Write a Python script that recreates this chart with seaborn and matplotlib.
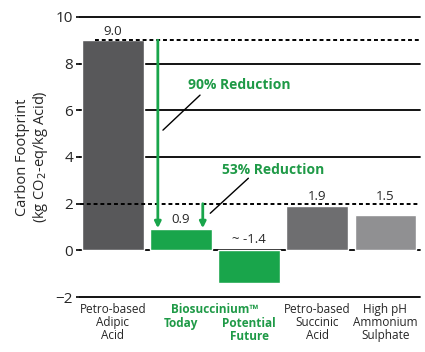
import pandas as pd
import matplotlib.pyplot as plt
import seaborn as sns

labels = ["Petro-based\nAdipic\nAcid", "Today", "Potential\nFuture",
          "Petro-based\nSuccinic\nAcid", "High pH\nAmmonium\nSulphate"]
values = [9.0, 0.9, -1.4, 1.9, 1.5]
value_text = ["9.0", "0.9", "~ -1.4", "1.9", "1.5"]
colors = ["#58585a", "#19a54b", "#19a54b", "#6e6e70", "#909092"]
green_txt = "#1f9a47"

sns.set_style("white")
plt.rcParams['font.family'] = ['Open Sans', 'DejaVu Sans']

df = pd.DataFrame({"cat": labels, "val": values})

fig = plt.figure(figsize=(4.25, 3.52), dpi=100)
ax = fig.add_axes([0.188, 0.156, 0.8, 0.796])

# reference lines behind bars
for y in [4, 6, 8, 10, 0, -2]:
    ax.axhline(y, color="black", lw=1.3, zorder=0, clip_on=False)

sns.barplot(data=df, x="cat", y="val", hue="cat", palette=colors, width=0.9,
            legend=False, ax=ax, saturation=1, zorder=2)

ax.axhline(2, color="black", lw=1.4, ls=(0, (2, 1.5)), zorder=3)
ax.axhline(9, xmin=0.045, color="black", lw=1.4, ls=(0, (2, 1.5)), zorder=3)

ax.set_ylim(-2, 10)
ax.set_xlim(-0.485, 4.51)
ax.set_yticks([-2, 0, 2, 4, 6, 8, 10])
ax.tick_params(axis="y", labelsize=11, length=3, width=1.2, color="black", pad=2, left=True)
ax.tick_params(axis="x", labelsize=8.5, length=0, pad=4)
for s in ax.spines.values():
    s.set_visible(False)
ax.set_xlabel("")
ax.set_ylabel("Carbon Footprint\n(kg CO$_2$-eq/kg Acid)", fontsize=10.5, labelpad=4, linespacing=1.1)

# x labels: black ones as tick labels, green Biosuccinium group as annotations
ax.set_xticks(range(5))
ax.set_xticklabels([lab if i not in (1, 2) else "" for i, lab in enumerate(labels)],
                   linespacing=1.0)
green_kw = dict(textcoords="offset points", ha="center", va="top", fontsize=8.5,
                color=green_txt, fontweight="bold", annotation_clip=False, linespacing=1.0)
ax.annotate("Biosuccinium™", xy=(1.5, -2), xytext=(0, -4), **green_kw)
ax.annotate(labels[1], xy=(1, -2), xytext=(0, -14), **green_kw)
ax.annotate(labels[2], xy=(2, -2), xytext=(0, -14), **green_kw)

# value labels
label_y = [9.1, 1.05, 0.2, 2.05, 2.05]
for i, (txt, y) in enumerate(zip(value_text, label_y)):
    ax.text(i, y, txt, ha="center", va="bottom", fontsize=9.5)

# reduction arrows
arrow = dict(arrowstyle="-|>", color="#19a54b", lw=2, mutation_scale=9, shrinkA=0, shrinkB=0)
ax.annotate("", xy=(0.66, 0.95), xytext=(0.66, 9.0), arrowprops=arrow, zorder=4)
ax.annotate("", xy=(1.32, 0.95), xytext=(1.32, 2.0), arrowprops=arrow, zorder=4)

ax.plot([0.735, 1.28], [5.15, 6.65], color="black", lw=1, zorder=4)
ax.plot([1.43, 1.99], [1.59, 3.09], color="black", lw=1, zorder=4)
ax.text(1.85, 7.1, "90% Reduction", ha="center", va="center", fontsize=10,
        color=green_txt, fontweight="bold")
ax.text(2.35, 3.45, "53% Reduction", ha="center", va="center", fontsize=10,
        color=green_txt, fontweight="bold")

fig.savefig("out.png", dpi=100)
